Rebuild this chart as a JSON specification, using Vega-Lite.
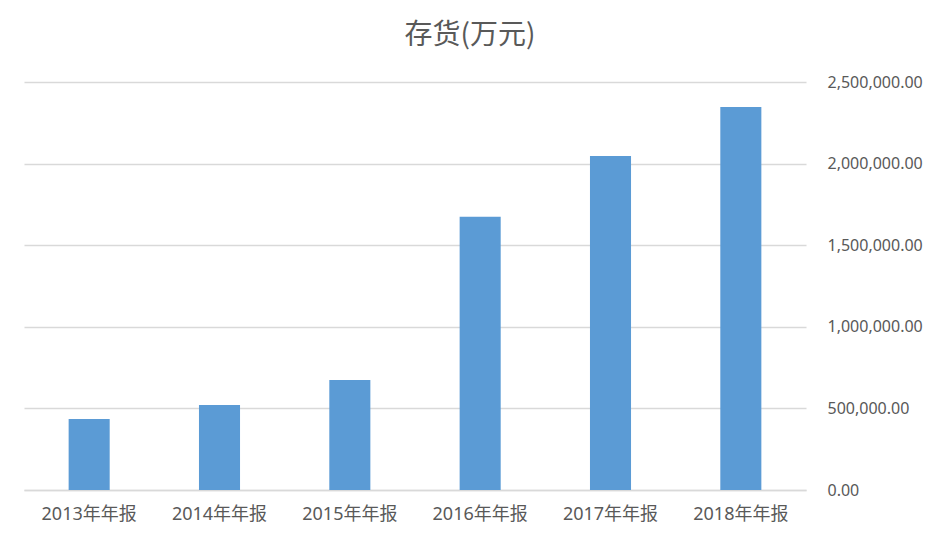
{
  "$schema": "https://vega.github.io/schema/vega-lite/v6.json",
  "width": 782,
  "height": 408,
  "autosize": {"type": "none"},
  "padding": {"left": 24, "top": 82, "right": 135, "bottom": 53},
  "background": "#ffffff",
  "title": {
    "text": "存货(万元)",
    "fontSize": 28,
    "font": "Noto Sans CJK SC",
    "fontWeight": "normal",
    "color": "#595959",
    "anchor": "middle",
    "frame": "group",
    "baseline": "middle",
    "dx": 55,
    "offset": 10
  },
  "data": {
    "values": [
      {"period": "2013年年报", "value": 435000},
      {"period": "2014年年报", "value": 521000},
      {"period": "2015年年报", "value": 674000},
      {"period": "2016年年报", "value": 1674000},
      {"period": "2017年年报", "value": 2046000},
      {"period": "2018年年报", "value": 2347000}
    ]
  },
  "mark": {"type": "bar", "color": "#5b9bd5"},
  "encoding": {
    "x": {
      "field": "period",
      "type": "nominal",
      "sort": null,
      "scale": {"paddingInner": 0.685, "paddingOuter": 0.3425},
      "axis": {
        "title": null,
        "labelAngle": 0,
        "ticks": false,
        "domainColor": "#d9d9d9",
        "domainWidth": 1.3,
        "labelFont": "Noto Sans, Noto Sans CJK SC",
        "labelFontSize": 18,
        "labelColor": "#595959",
        "labelPadding": 15
      }
    },
    "y": {
      "field": "value",
      "type": "quantitative",
      "scale": {"domain": [0, 2500000], "nice": false},
      "axis": {
        "orient": "right",
        "title": null,
        "values": [0, 500000, 1000000, 1500000, 2000000, 2500000],
        "format": ",.2f",
        "domain": false,
        "ticks": false,
        "gridColor": "#d9d9d9",
        "gridWidth": 1.3,
        "labelFont": "Noto Sans",
        "labelFontSize": 16,
        "labelColor": "#595959",
        "labelPadding": 21,
        "labelAlign": "left"
      }
    }
  },
  "config": {"view": {"stroke": null}}
}
